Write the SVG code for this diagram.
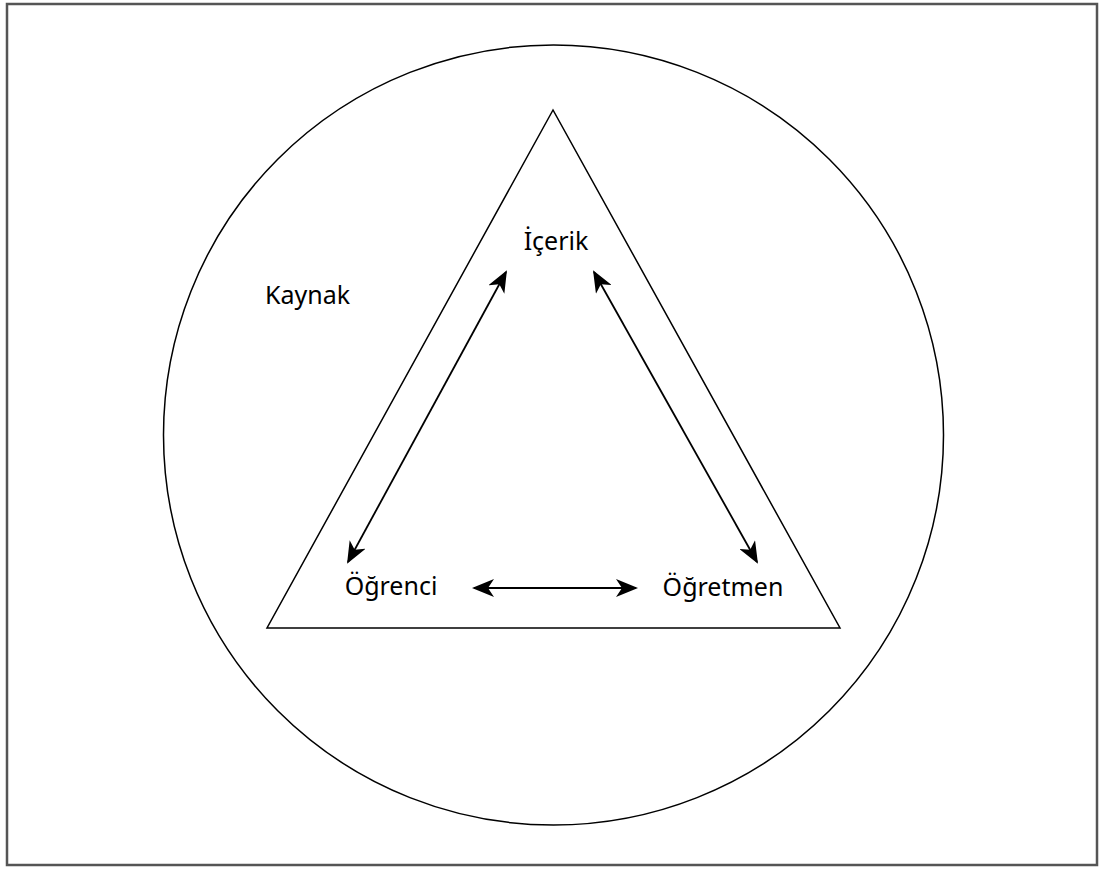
<svg xmlns="http://www.w3.org/2000/svg" width="1100" height="872" viewBox="0 0 1100 872">
<style>
.shape{fill:none;stroke:#000;stroke-width:1.5}
.lbl{font-family:"Noto Sans","Open Sans",sans-serif;font-size:25px;fill:#000}
.conn{stroke:#000;stroke-width:1.8;fill:none;marker-start:url(#ah);marker-end:url(#ah)}
</style>
<defs>
<marker id="ah" viewBox="0 0 22 18" refX="20" refY="9" markerWidth="22" markerHeight="18" markerUnits="userSpaceOnUse" orient="auto-start-reverse">
<path d="M0,0 L22,9 L0,18 L6,9 Z" fill="#000"/>
</marker>
</defs>
<rect width="1100" height="872" fill="#fff"/>
<rect x="7" y="4" width="1090" height="861" fill="none" stroke="#555" stroke-width="2.5"/>
<g id="kaynak">
<circle class="shape" cx="553.5" cy="435" r="390"/>
<text class="lbl" x="265" y="304">Kaynak</text>
</g>
<g id="triangle">
<polygon class="shape" points="553,110 267,628 840,628"/>
</g>
<g id="icerik"><text class="lbl" x="556" y="250" text-anchor="middle">İçerik</text></g>
<g id="ogrenci"><text class="lbl" x="391" y="595" text-anchor="middle">Öğrenci</text></g>
<g id="ogretmen"><text class="lbl" x="723" y="596" text-anchor="middle">Öğretmen</text></g>
<g id="connectors">
<line class="conn" x1="506" y1="272" x2="348" y2="562"/>
<line class="conn" x1="594" y1="272" x2="757" y2="562"/>
<line class="conn" x1="474" y1="588" x2="636" y2="588"/>
</g>
</svg>
